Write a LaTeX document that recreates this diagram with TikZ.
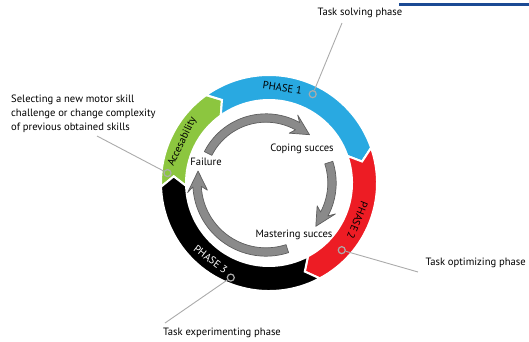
\documentclass[tikz,border=0pt]{standalone}
\usepackage{fontspec}
\setmainfont{PT Sans}
\usepackage{tikz}
\usetikzlibrary{calc}
\definecolor{phase blue}{HTML}{29A9E1}
\definecolor{phase red}{HTML}{ED1C24}
\definecolor{phase green}{HTML}{8CC63F}
\definecolor{leader grey}{HTML}{ABABAB}
\definecolor{cycle grey}{HTML}{8A8A8A}
\definecolor{cycle edge}{HTML}{5E5E5E}
\definecolor{rule blue}{HTML}{1B4A94}

% one chevron part of the outer ring: colour, start angle, end angle
\newcommand{\ringpart}[3]{%
  \fill[#1, draw=white, line width=2pt, line join=miter]
    (#2:108) arc[start angle=#2, end angle=#3, radius=108]
    -- ({#3-6}:95.5) -- (#3:83)
    arc[start angle=#3, end angle=#2, radius=83]
    -- ({#2-6}:95.5) -- cycle;
}
% one grey arrow of the inner cycle: tail, head base, tip, radius
\newcommand{\cyclearrow}[4]{%
  \filldraw[fill=cycle grey, draw=cycle edge, line width=0.7pt, line join=round]
    (#1:{#4+4.2}) arc[start angle=#1, end angle=#2, radius=#4+4.2]
    -- ({#2+4}:{#4+10}) -- (#3:#4) -- ({#2+4}:{#4-10})
    -- (#2:{#4-4.2}) arc[start angle=#2, end angle=#1, radius=#4-4.2] -- cycle;
}

\begin{document}
\begin{tikzpicture}[x=1pt, y=1pt,
    every node/.style={font=\fontsize{10.6}{14}\selectfont},
    marker/.style={circle, draw=leader grey, line width=1.2pt, inner sep=0pt, minimum size=7pt},
    leader/.style={draw=leader grey, line width=0.9pt},
    ringlabel/.style={inner sep=0pt}]
  \useasboundingbox (0, 0) rectangle (529, 341);

  \draw[rule blue, line width=3pt] (399, 336) -- (529, 336);

  % outer ring
  \begin{scope}[shift={(269, 158)}]
    \ringpart{phase green}{182}{125.5}
    \ringpart{phase blue}{125.5}{19}
    \ringpart{phase red}{19}{-62}
    \ringpart{black}{-62}{-178}

    \node[ringlabel, rotate=-8] (p1) at (82:96) {PHASE 1};
    \node[ringlabel, rotate=-112] (p2) at (-23:96) {PHASE 2};
    \node[ringlabel, rotate=-37.5, text=white] (p3) at (-127.5:96) {PHASE 3};
    \node[ringlabel, rotate=64.5] (acc) at (154.5:96) {Accesability};

    \node[marker] (m1) at (63.8:99) {};
    \node[marker] (m2) at (-42.7:99) {};
    \node[marker] (m3) at (-112:102) {};
    \node[marker] (m4) at (174.4:102) {};
  \end{scope}

  % inner cycle
  \begin{scope}[shift={(266, 158)}]
    \cyclearrow{153}{61}{48}{65}
    \cyclearrow{18}{-28}{-41}{66}
    \cyclearrow{-72}{-177}{-190}{69}
  \end{scope}

  \node (coping) at (302, 192) {Coping succes};
  \node (failure) at (206, 179) {Failure};
  \node (mastering) at (294, 106) {Mastering succes};

  % annotations
  \node (solving) at (360, 328) {Task solving phase};
  \node[anchor=west] (optimizing) at (422, 78) {Task optimizing phase};
  \node (experimenting) at (222, 8) {Task experimenting phase};
  \node[anchor=north west, align=left, inner sep=0pt] (selecting) at (11, 246) {%
    Selecting a new motor skill\\
    challenge or change complexity\\
    of previous obtained skills};

  \coordinate (e1) at (342, 318);
  \coordinate (e2) at (418, 69);
  \coordinate (e3) at (165, 18);
  \coordinate (e4) at (97, 205);
  \draw[leader] (m1) -- (e1);
  \draw[leader] (m2) -- (e2);
  \draw[leader] (m3) -- (e3);
  \draw[leader] (m4) -- (e4);
\end{tikzpicture}
\end{document}
